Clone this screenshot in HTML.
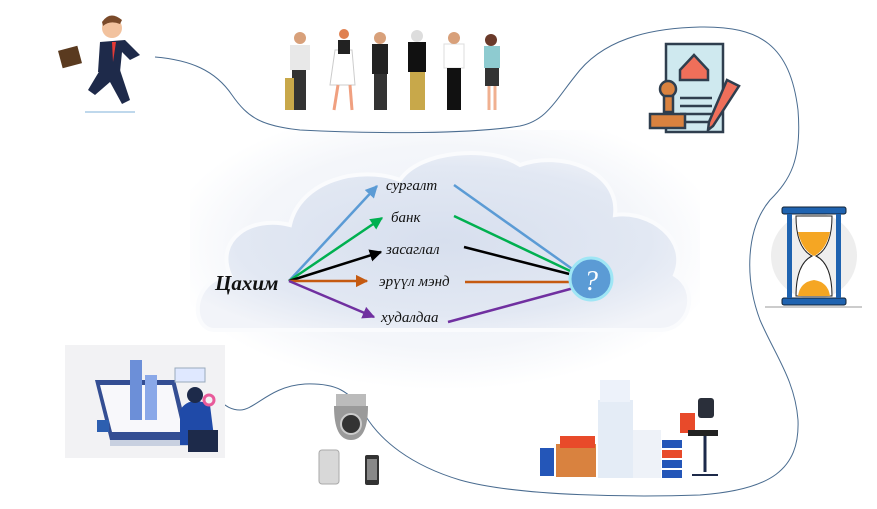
<!DOCTYPE html>
<html><head><meta charset="utf-8"><style>
html,body{margin:0;padding:0;background:#fff;width:877px;height:509px;overflow:hidden}
svg{display:block}
text{font-family:"Liberation Serif",serif;font-style:italic}
</style></head><body>
<svg width="877" height="509" viewBox="0 0 877 509" xmlns="http://www.w3.org/2000/svg">
<defs>
<radialGradient id="cg" cx="50%" cy="50%" r="60%">
<stop offset="0" stop-color="#d7dfee"/><stop offset="0.7" stop-color="#e2e8f3"/><stop offset="1" stop-color="#f2f4f9"/></radialGradient>
<radialGradient id="bg" cx="50%" cy="45%" r="55%">
<stop offset="0" stop-color="#eef1f7"/><stop offset="0.7" stop-color="#f4f6fa"/><stop offset="1" stop-color="#fff"/></radialGradient>
<marker id="ab" viewBox="0 0 10 10" refX="9" refY="5" markerWidth="5" markerHeight="5" orient="auto"><path d="M0,0L10,5L0,10z" fill="#5b9bd5"/></marker>
<marker id="ag" viewBox="0 0 10 10" refX="9" refY="5" markerWidth="5" markerHeight="5" orient="auto"><path d="M0,0L10,5L0,10z" fill="#00b050"/></marker>
<marker id="ak" viewBox="0 0 10 10" refX="9" refY="5" markerWidth="5" markerHeight="5" orient="auto"><path d="M0,0L10,5L0,10z" fill="#000"/></marker>
<marker id="ao" viewBox="0 0 10 10" refX="9" refY="5" markerWidth="5" markerHeight="5" orient="auto"><path d="M0,0L10,5L0,10z" fill="#c55a11"/></marker>
<marker id="ap" viewBox="0 0 10 10" refX="9" refY="5" markerWidth="5" markerHeight="5" orient="auto"><path d="M0,0L10,5L0,10z" fill="#7030a0"/></marker>
</defs>
<rect x="190" y="130" width="510" height="260" fill="url(#bg)"/>
<!-- cloud -->
<path d="M215,330 C190,330 190,280 230,275 C215,240 250,215 290,225 C300,180 360,165 400,180 C420,150 490,145 520,165 C560,150 620,170 615,215 C650,210 690,240 675,275 C700,290 690,330 660,330 Z" fill="url(#cg)" stroke="#fafbfd" stroke-width="4"/>
<!-- wavy line -->
<path d="M155,57 C190,60 215,70 232,95 C248,118 262,126 300,130 C380,134 470,134 520,126 C548,120 555,100 580,70 C610,35 660,28 700,27 C760,26 790,45 798,110 C802,160 790,180 770,200 C745,230 745,280 760,320 C775,355 795,380 798,420 C800,470 770,490 700,495 C640,497 520,497 460,480 C410,465 380,440 365,415 C350,390 335,383 305,384 C270,386 255,410 240,410 C228,410 222,402 215,398" fill="none" stroke="#4a6c90" stroke-width="1"/>
<!-- arrows -->
<g stroke-width="2.5" fill="none">
<line x1="289" y1="281" x2="377" y2="186" stroke="#5b9bd5" marker-end="url(#ab)"/>
<line x1="289" y1="281" x2="382" y2="218" stroke="#00b050" marker-end="url(#ag)"/>
<line x1="289" y1="281" x2="381" y2="252" stroke="#000" marker-end="url(#ak)"/>
<line x1="289" y1="281" x2="367" y2="281" stroke="#c55a11" marker-end="url(#ao)"/>
<line x1="289" y1="281" x2="374" y2="317" stroke="#7030a0" marker-end="url(#ap)"/>
<line x1="454" y1="185" x2="585" y2="278" stroke="#5b9bd5"/>
<line x1="454" y1="216" x2="585" y2="278" stroke="#00b050"/>
<line x1="464" y1="247" x2="585" y2="278" stroke="#000"/>
<line x1="465" y1="282" x2="585" y2="282" stroke="#c55a11"/>
<line x1="448" y1="322" x2="585" y2="285" stroke="#7030a0"/>
</g>
<text x="215" y="290" font-size="21" font-weight="bold" fill="#111">Цахим</text>
<g font-size="15" fill="#111">
<text x="386" y="190">сургалт</text>
<text x="391" y="222">банк</text>
<text x="386" y="254">засаглал</text>
<text x="379" y="286">эрүүл мэнд</text>
<text x="381" y="322">худалдаа</text>
</g>
<circle cx="591" cy="279" r="21" fill="#5b9bd5" stroke="#9fe6f5" stroke-width="3"/>
<text x="591" y="290" font-size="28" fill="#fff" text-anchor="middle" font-style="normal" font-family="Liberation Sans">?</text>
<!-- running man -->
<g>
<line x1="85" y1="112" x2="135" y2="112" stroke="#7fb0d8"/>
<circle cx="112" cy="28" r="10" fill="#f2c29e"/><path d="M102,22 Q110,10 122,20 L120,24 Q110,20 103,26z" fill="#7a4a2a"/>
<path d="M100,42 L125,40 L140,55 L130,60 L122,52 L120,72 L98,72z" fill="#1e2a4a"/>
<path d="M100,70 L120,70 L130,100 L122,104 L110,82 L95,95 L88,90z" fill="#1e2a4a"/>
<rect x="60" y="48" width="20" height="18" fill="#5a3a1f" transform="rotate(-15 70 57)"/>
<path d="M112,42 L116,42 L113,62z" fill="#e53935"/>
</g>
<!-- people -->
<g>
<rect x="290" y="45" width="20" height="25" fill="#e8e8e8"/><rect x="292" y="70" width="14" height="40" fill="#333"/><circle cx="300" cy="38" r="6" fill="#d8a07a"/>
<rect x="285" y="78" width="9" height="32" fill="#c8a84a"/>
<path d="M335,50 L352,50 L355,85 L330,85z" fill="#fff" stroke="#ccc"/><rect x="338" y="40" width="12" height="14" fill="#222"/><circle cx="344" cy="34" r="5" fill="#e08050"/><line x1="338" y1="85" x2="334" y2="110" stroke="#f0a080" stroke-width="3"/><line x1="350" y1="85" x2="352" y2="110" stroke="#f0a080" stroke-width="3"/>
<rect x="372" y="44" width="16" height="30" fill="#222"/><rect x="374" y="74" width="13" height="36" fill="#333"/><circle cx="380" cy="38" r="6" fill="#d8a07a"/>
<rect x="408" y="42" width="18" height="30" fill="#111"/><rect x="410" y="72" width="15" height="38" fill="#c8a84a"/><circle cx="417" cy="36" r="6" fill="#ddd"/>
<rect x="444" y="44" width="20" height="24" fill="#fff" stroke="#ddd"/><rect x="447" y="68" width="14" height="42" fill="#111"/><circle cx="454" cy="38" r="6" fill="#d8a07a"/>
<rect x="484" y="46" width="16" height="22" fill="#8ecbd0"/><rect x="485" y="68" width="14" height="18" fill="#333"/><line x1="489" y1="86" x2="489" y2="110" stroke="#f0b090" stroke-width="3"/><line x1="495" y1="86" x2="495" y2="110" stroke="#f0b090" stroke-width="3"/><circle cx="491" cy="40" r="6" fill="#6a3a2a"/>
</g>
<!-- document stamp -->
<g stroke="#2f3e4e" stroke-width="2.5">
<rect x="666" y="44" width="57" height="88" fill="#cfe9ef"/>
<path d="M680,70 L694,55 L708,70 L708,80 L680,80z" fill="#ef6f5a"/>
<line x1="680" y1="98" x2="712" y2="98"/><line x1="680" y1="106" x2="712" y2="106"/><line x1="680" y1="114" x2="712" y2="114"/><line x1="685" y1="122" x2="710" y2="122"/>
<circle cx="668" cy="89" r="8" fill="#d9823f"/><rect x="664" y="96" width="9" height="16" fill="#d9823f"/><rect x="650" y="114" width="35" height="14" fill="#d9823f"/>
<path d="M727,80 L739,86 L713,126 L708,130 L709,122z" fill="#ef6f5a"/>
</g>
<!-- hourglass -->
<circle cx="814" cy="256" r="43" fill="#eee"/>
<line x1="765" y1="307" x2="862" y2="307" stroke="#999"/>
<rect x="782" y="207" width="64" height="7" rx="2" fill="#1f63b0" stroke="#123" stroke-width="1"/>
<rect x="782" y="298" width="64" height="7" rx="2" fill="#1f63b0" stroke="#123" stroke-width="1"/>
<rect x="787" y="214" width="5" height="84" fill="#1f63b0"/><rect x="836" y="214" width="5" height="84" fill="#1f63b0"/>
<path d="M796,216 L832,216 Q832,248 816,256 Q832,264 832,296 L796,296 Q796,264 812,256 Q796,248 796,216z" fill="#fff" stroke="#222"/>
<path d="M798,232 L830,232 Q826,250 814,256 Q802,250 798,232z" fill="#f5a623"/>
<path d="M798,296 Q800,282 814,280 Q828,282 830,296z" fill="#f5a623"/>
<!-- desk illustration -->
<rect x="65" y="345" width="160" height="113" fill="#f2f2f4"/>
<path d="M95,380 L175,380 L190,440 L110,440z" fill="#1f3c88" opacity=".9"/>
<path d="M100,385 L172,385 L183,432 L112,432z" fill="#f8f8fb"/>
<rect x="130" y="360" width="12" height="60" fill="#6c8fd8"/><rect x="145" y="375" width="12" height="45" fill="#8aa8e8"/>
<rect x="110" y="440" width="80" height="6" fill="#c8d0e0"/>
<path d="M180,410 Q190,395 210,405 L215,445 L180,445z" fill="#1f4aa8"/>
<circle cx="195" cy="395" r="8" fill="#1d2a4a"/>
<rect x="188" y="430" width="30" height="22" fill="#1d2a4a"/>
<rect x="175" y="368" width="30" height="14" fill="#dfe8ff" stroke="#9ab"/>
<rect x="97" y="420" width="12" height="12" fill="#2d5fb0"/>
<circle cx="209" cy="400" r="5" fill="none" stroke="#e85a9a" stroke-width="3"/>
<!-- camera and devices -->
<rect x="336" y="394" width="30" height="12" fill="#bbb"/>
<path d="M334,406 L368,406 Q368,440 351,440 Q334,440 334,406z" fill="#9a9a9a"/>
<circle cx="351" cy="424" r="10" fill="#333" stroke="#ccc" stroke-width="2"/>
<rect x="319" y="450" width="20" height="34" rx="3" fill="#d8d8d8" stroke="#aaa"/>
<rect x="365" y="455" width="14" height="30" rx="2" fill="#333"/>
<rect x="367" y="459" width="10" height="21" fill="#888"/>
<!-- office pile -->
<rect x="540" y="448" width="14" height="28" fill="#2456b8"/>
<rect x="556" y="444" width="40" height="33" fill="#d9823f"/>
<rect x="560" y="436" width="35" height="12" fill="#e84a2a"/>
<rect x="598" y="400" width="35" height="78" fill="#e4ecf6"/>
<rect x="600" y="380" width="30" height="22" fill="#edf2fa"/>
<rect x="633" y="430" width="28" height="48" fill="#eef2f8"/>
<rect x="662" y="440" width="20" height="8" fill="#2456b8"/><rect x="662" y="450" width="20" height="8" fill="#e84a2a"/><rect x="662" y="460" width="20" height="8" fill="#2456b8"/><rect x="662" y="470" width="20" height="8" fill="#2456b8"/>
<rect x="680" y="413" width="15" height="20" fill="#e84a2a"/><rect x="698" y="398" width="16" height="20" rx="3" fill="#2a2f3a"/><rect x="688" y="430" width="30" height="6" fill="#222"/><line x1="705" y1="436" x2="705" y2="472" stroke="#1d2a4a" stroke-width="3"/><line x1="692" y1="475" x2="718" y2="475" stroke="#1d2a4a" stroke-width="2"/>
</svg>
</body></html>
